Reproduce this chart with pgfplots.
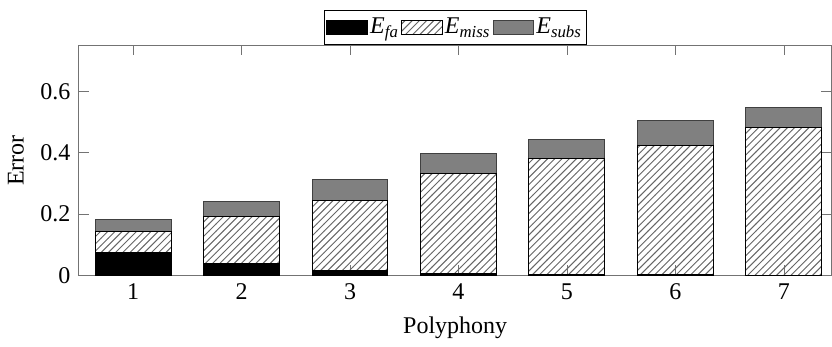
\documentclass[border=0pt]{standalone}
\usepackage{fontspec}
\setmainfont{Liberation Serif}
\usepackage{pgfplots}
\pgfplotsset{compat=1.18}
\usetikzlibrary{patterns}
\begin{document}
\begin{tikzpicture}
\begin{axis}[
  scale only axis,
  width=313.7pt, height=96pt,
  ybar stacked,
  bar width=0.7,
  xmin=0.5, xmax=7.44,
  ymin=0, ymax=0.75,
  xtick={1,2,3,4,5,6,7},
  ytick={0,0.2,0.4,0.6},
  xlabel={Polyphony},
  ylabel={Error},
  /pgf/number format/assume math mode=true,
  axis line style={black!55},
  major tick style={black!55},
  area legend,
  legend style={at={(0.5,1)}, anchor=south, legend columns=-1, draw=black,
    inner sep=1pt, nodes={inner xsep=0.8pt, inner ysep=2.2pt},
    /tikz/every even column/.append style={column sep=0pt}},
]
\addplot[fill=black, draw=black] coordinates {(1,0.074) (2,0.038) (3,0.018) (4,0.008) (5,0.004) (6,0.002) (7,0.001)};
\addplot[pattern=north east lines, pattern color=black!60, draw=black] coordinates {(1,0.068) (2,0.154) (3,0.225) (4,0.324) (5,0.377) (6,0.421) (7,0.482)};
\addplot[fill=black!50, draw=black!75] coordinates {(1,0.041) (2,0.050) (3,0.071) (4,0.064) (5,0.061) (6,0.082) (7,0.065)};
\legend{\textit{E}\textsubscript{\textit{fa}}, \textit{E}\textsubscript{\textit{miss}}, \textit{E}\textsubscript{\textit{subs}}}
\end{axis}
\path ([yshift=4pt]current bounding box.north);
\end{tikzpicture}
\end{document}
